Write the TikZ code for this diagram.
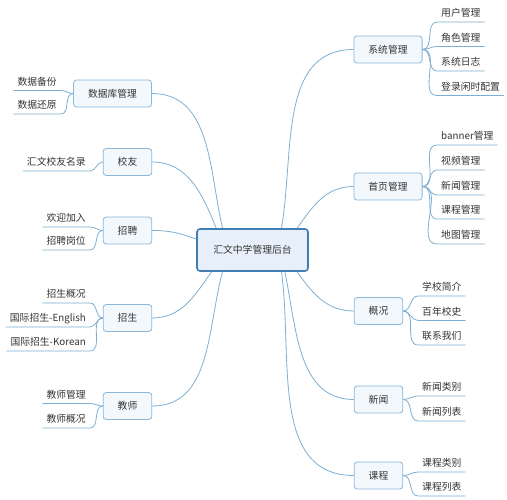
\documentclass[tikz,border=0pt]{standalone}
\usepackage{fontspec}
\setmainfont{Noto Sans CJK SC}
\definecolor{linkblue}{HTML}{7DAED3}
\definecolor{boxline}{HTML}{8AB6DA}
\definecolor{boxfill}{HTML}{F3F8FD}
\definecolor{hubline}{HTML}{3F7DB3}
\definecolor{hubfill}{HTML}{E7F0FA}
\begin{document}
\begin{tikzpicture}[x=1pt,y=1pt,
    every node/.style={font=\fontsize{9.8pt}{12pt}\selectfont,text=black!80},
    hubbox/.style={draw=hubline,line width=1.6pt,fill=hubfill,rounded corners=3pt,minimum width=111pt,minimum height=42pt},
    topic/.style={draw=boxline,line width=0.8pt,fill=boxfill,rounded corners=3pt,inner xsep=14.5pt,minimum height=27pt},
    leafR/.style={anchor=south west,inner xsep=4pt,inner ysep=3pt,text height=8pt,text depth=2pt},
    leafL/.style={leafR,anchor=south east},
    link/.style={draw=linkblue,line width=0.8pt}]
    \useasboundingbox (0,0) rectangle (507,-500);
    \node[hubbox] (hub) at (252.5,-250) {汇文中学管理后台};
    \node[topic] (sys) at (388,-49.5) {系统管理};
    \node[topic] (home) at (388,-186.5) {首页管理};
    \node[topic] (ovw) at (378.5,-311) {概况};
    \node[topic] (news) at (378.5,-399.5) {新闻};
    \node[topic] (crs) at (378.5,-475.5) {课程};
    \node[topic] (db) at (112.5,-93.5) {数据库管理};
    \node[topic] (alum) at (127.5,-162) {校友};
    \node[topic] (hire) at (127.5,-230.5) {招聘};
    \node[topic] (enrol) at (127.5,-318) {招生};
    \node[topic] (tch) at (127.5,-406) {教师};
    \draw[link] (hub.37) to[out=80,in=180] (sys.west);
    \draw[link] (hub.26) to[out=55,in=180] (home.west);
    \draw[link] (hub.334) to[out=-55,in=180] (ovw.west);
    \draw[link] (hub.326) to[out=-78,in=180] (news.west);
    \draw[link] (hub.323) to[out=-82,in=180] (crs.west);
    \draw[link] (hub.144) to[out=103,in=0] (db.east);
    \draw[link] (hub.149) to[out=112,in=0] (alum.east);
    \draw[link] (hub.169) to[out=160,in=0] (hire.east);
    \draw[link] (hub.208) to[out=235,in=0] (enrol.east);
    \draw[link] (hub.216) to[out=255,in=0] (tch.east);
    \foreach \y/\t [count=\i] in {22/用户管理,46.5/角色管理,71/系统日志,95.5/登录闲时配置} {
      \node[leafR] (s\i) at (437,-\y) {\t};
      \draw[link] (sys.east) to[out=0,in=180] (s\i.south west) -- (s\i.south east);
    }
    \foreach \y/\t [count=\i] in {145/banner管理,170/视频管理,195/新闻管理,219/课程管理,244/地图管理} {
      \node[leafR] (h\i) at (437,-\y) {\t};
      \draw[link] (home.east) to[out=0,in=180] (h\i.south west) -- (h\i.south east);
    }
    \foreach \y/\t [count=\i] in {296/学校简介,320.5/百年校史,345/联系我们} {
      \node[leafR] (o\i) at (418,-\y) {\t};
      \draw[link] (ovw.east) to[out=0,in=180] (o\i.south west) -- (o\i.south east);
    }
    \foreach \y/\t [count=\i] in {396/新闻类别,421/新闻列表} {
      \node[leafR] (n\i) at (418,-\y) {\t};
      \draw[link] (news.east) to[out=0,in=180] (n\i.south west) -- (n\i.south east);
    }
    \foreach \y/\t [count=\i] in {472/课程类别,496/课程列表} {
      \node[leafR] (c\i) at (418,-\y) {\t};
      \draw[link] (crs.east) to[out=0,in=180] (c\i.south west) -- (c\i.south east);
    }
    \foreach \y/\t [count=\i] in {90.5/数据备份,114/数据还原} {
      \node[leafL] (d\i) at (61,-\y) {\t};
      \draw[link] (db.west) to[out=180,in=0] (d\i.south east) -- (d\i.south west);
    }
    \node[leafL] (a1) at (90,-171) {汇文校友名录};
    \draw[link] (alum.west) to[out=180,in=0] (a1.south east) -- (a1.south west);
    \foreach \y/\t [count=\i] in {227/欢迎加入,250/招聘岗位} {
      \node[leafL] (r\i) at (90,-\y) {\t};
      \draw[link] (hire.west) to[out=180,in=0] (r\i.south east) -- (r\i.south west);
    }
    \foreach \y/\t [count=\i] in {303/招生概况,327/国际招生-English,351/国际招生-Korean} {
      \node[leafL] (e\i) at (90,-\y) {\t};
      \draw[link] (enrol.west) to[out=180,in=0] (e\i.south east) -- (e\i.south west);
    }
    \foreach \y/\t [count=\i] in {403.5/教师管理,428/教师概况} {
      \node[leafL] (t\i) at (90,-\y) {\t};
      \draw[link] (tch.west) to[out=180,in=0] (t\i.south east) -- (t\i.south west);
    }
\end{tikzpicture}
\end{document}
